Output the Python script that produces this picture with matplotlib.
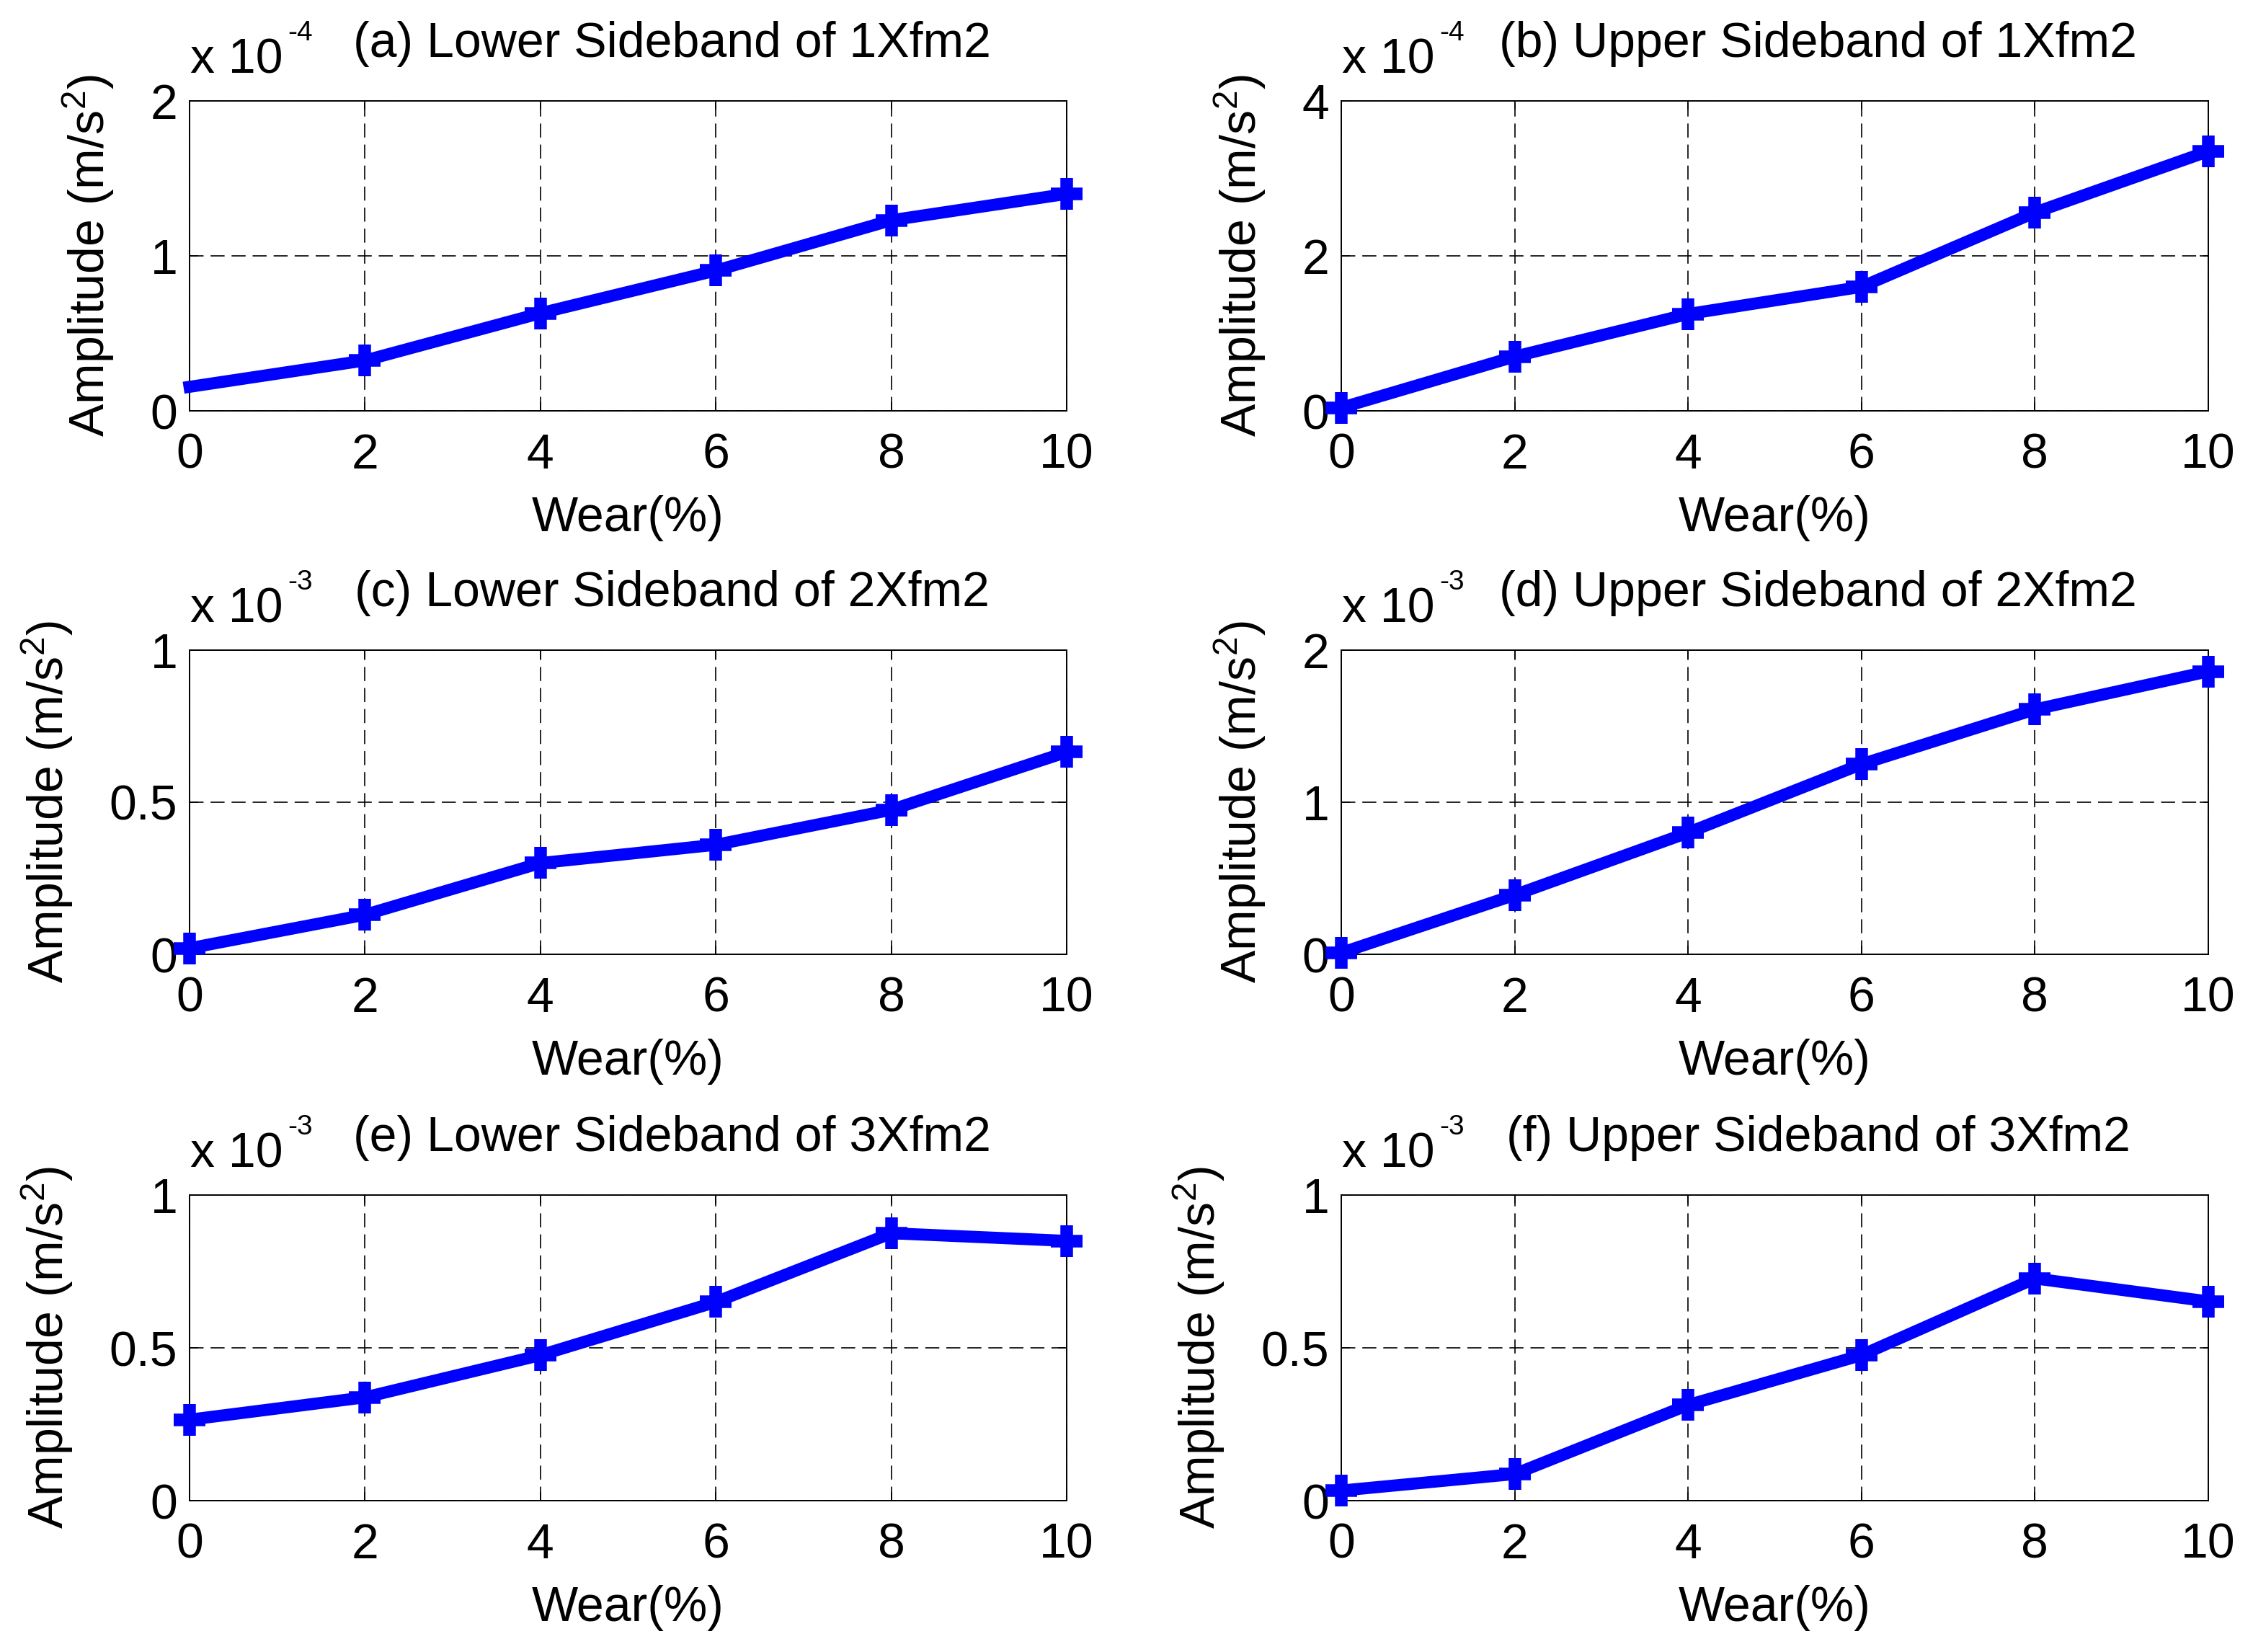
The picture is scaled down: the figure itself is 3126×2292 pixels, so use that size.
import matplotlib
matplotlib.use('Agg')
import matplotlib.pyplot as plt
from matplotlib.ticker import FixedLocator, FormatStrFormatter

plt.rcParams['font.family'] = ['Liberation Sans', 'DejaVu Sans']
plt.rcParams['mathtext.fontset'] = 'custom'
plt.rcParams['mathtext.rm'] = 'Liberation Sans'
plt.rcParams['mathtext.it'] = 'Liberation Sans'
plt.rcParams['lines.scale_dashes'] = False

# ---------------- data ----------------
wear = [0, 2, 4, 6, 8, 10]
lower_1x = [0.155, 0.325, 0.63, 0.905, 1.23, 1.40]    # x 1e-4
upper_1x = [0.04, 0.70, 1.25, 1.60, 2.56, 3.35]       # x 1e-4
lower_2x = [0.02, 0.13, 0.30, 0.36, 0.475, 0.665]     # x 1e-3
upper_2x = [0.01, 0.39, 0.80, 1.25, 1.61, 1.86]       # x 1e-3
lower_3x = [0.265, 0.338, 0.476, 0.65, 0.875, 0.85]   # x 1e-3
upper_3x = [0.033, 0.087, 0.313, 0.476, 0.727, 0.652] # x 1e-3

series = [lower_1x, upper_1x, lower_2x, upper_2x, lower_3x, upper_3x]
titles = ['(a) Lower Sideband of 1Xfm2', '(b) Upper Sideband of 1Xfm2',
          '(c) Lower Sideband of 2Xfm2', '(d) Upper Sideband of 2Xfm2',
          '(e) Lower Sideband of 3Xfm2', '(f) Upper Sideband of 3Xfm2']
exponents = ['-4', '-4', '-3', '-3', '-3', '-3']
yticks = [[0, 1, 2], [0, 2, 4], [0, 0.5, 1], [0, 1, 2], [0, 0.5, 1], [0, 0.5, 1]]
xticks = [0, 2, 4, 6, 8, 10]
marker_start = [1, 0, 0, 0, 0, 0]
xlabel = 'Wear(%)'
ylabel = 'Amplitude (m/s$^2$)'

# ---------------- layout (pixels) ----------------
W, H = 3126, 2292
DPI = 200
cols = [(263, 1480), (1861, 3064)]
rows = [(140, 570), (902, 1324), (1658, 2082)]

fig = plt.figure(figsize=(W / DPI, H / DPI), dpi=DPI)
FS = 24.5

for i, ys in enumerate(series):
    r, c = divmod(i, 2)
    l, rr = cols[c]
    t, b = rows[r]
    ax = fig.add_axes([l / W, 1 - b / H, (rr - l) / W, (b - t) / H])
    ax.plot(wear, ys, color='#0000FF', lw=6, marker='+', ms=15.5, mew=6.3,
            markevery=list(range(marker_start[i], len(wear))),
            clip_on=False, zorder=3, solid_joinstyle='round')
    ax.set_xlim(0, 10)
    ax.set_ylim(yticks[i][0], yticks[i][-1])
    ax.xaxis.set_major_locator(FixedLocator(xticks))
    ax.yaxis.set_major_locator(FixedLocator(yticks[i]))
    ax.xaxis.set_major_formatter(FormatStrFormatter('%g'))
    ax.yaxis.set_major_formatter(FormatStrFormatter('%g'))
    ax.tick_params(axis='both', direction='in', length=4.3, width=0.6,
                   top=True, right=True, labelsize=FS, colors='black')
    ax.tick_params(axis='x', pad=10.8)
    ax.tick_params(axis='y', pad=6)
    ax.grid(True, color='black', lw=0.6, linestyle=(0, (7, 3.5)))
    for s in ax.spines.values():
        s.set_linewidth(0.7)
        s.set_color('black')
    ax.set_xlabel(xlabel, fontsize=FS, labelpad=8.3)
    ax.set_ylabel(ylabel, fontsize=FS, labelpad=17)
    ax.annotate(titles[i], xy=(0.55, 1), xycoords='axes fraction',
                xytext=(0, 22), textcoords='offset points',
                ha='center', va='baseline', fontsize=FS)
    ax.annotate('x 10', xy=(0, 1), xycoords='axes fraction',
                xytext=(0.4, 13.7), textcoords='offset points',
                ha='left', va='baseline', fontsize=FS)
    ax.annotate(exponents[i], xy=(0, 1), xycoords='axes fraction',
                xytext=(49, 30.2), textcoords='offset points',
                ha='left', va='baseline', fontsize=14)

fig.savefig('out.png', dpi=DPI, facecolor='white')
